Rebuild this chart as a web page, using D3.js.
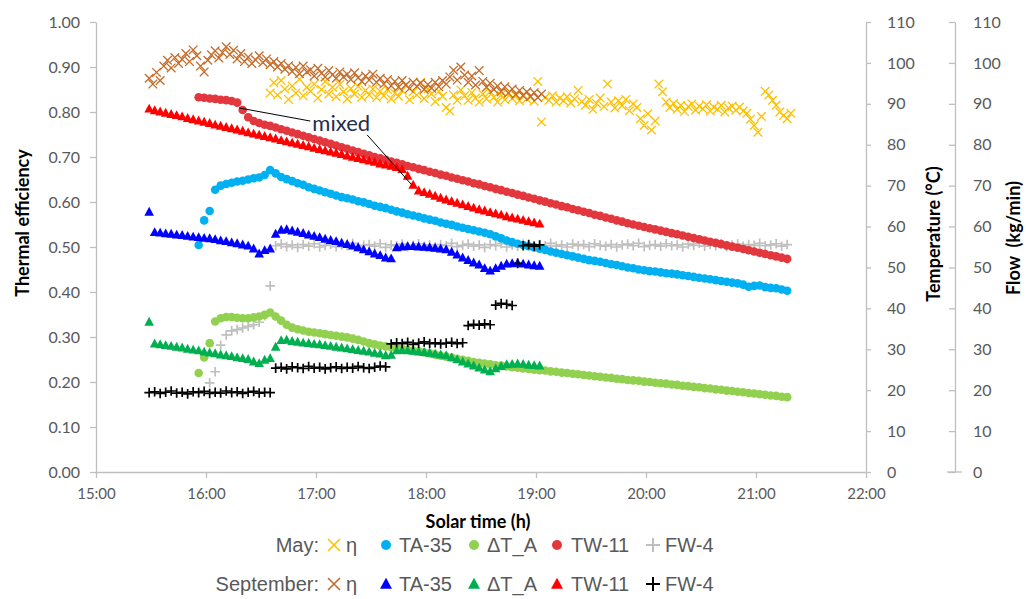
<!DOCTYPE html>
<html>
<head>
<meta charset="utf-8">
<script src="https://cdn.jsdelivr.net/npm/d3@7"></script>
<style>
  body { margin: 0; background: #fff; }
  svg { display: block; }
  text { font-family: Lato, "Open Sans", sans-serif; }
</style>
</head>
<body>
<svg id="chart" width="1026" height="599"></svg>
<script>
// ---------- axis ticks ----------
const hourTicks = [15, 16, 17, 18, 19, 20, 21, 22];
const effTicks = [0, 0.1, 0.2, 0.3, 0.4, 0.5, 0.6, 0.7, 0.8, 0.9, 1.0];
const tempTicks = [0, 10, 20, 30, 40, 50, 60, 70, 80, 90, 100, 110];
const flowTicks = [0, 10, 20, 30, 40, 50, 60, 70, 80, 90, 100, 110];

// ---------- September test: logged every 3 min from 15:29 ----------
const sepStart = "15:29", sepStep = 3;
const sepTA35 = [63.6, 58.6, 58.5, 58.3, 58.2, 58.0, 57.9, 57.7, 57.5, 57.4, 57.2, 57.1, 56.9, 56.6, 56.4, 56.1, 55.9, 55.6, 55.3, 54.6,
  53.4, 54.2, 54.6, 58.2, 59.2, 59.3, 59.0, 58.7, 58.4, 58.0, 57.7, 57.4, 57.0, 56.7, 56.4, 56.0, 55.7, 55.3, 54.9, 54.4,
  53.9, 53.4, 53.0, 52.4, 52.2, 54.9, 55.1, 55.2, 55.2, 55.1, 55.0, 54.9, 54.8, 54.6, 54.4, 53.8, 53.1, 52.4, 51.8, 51.2,
  50.7, 49.8, 49.2, 49.8, 50.4, 50.9, 51.0, 51.1, 50.9, 50.7, 50.5, 50.4];
const sepDTA = [36.7, 31.4, 31.2, 31.0, 30.8, 30.6, 30.4, 30.1, 29.9, 29.7, 29.4, 29.2, 29.0, 28.7, 28.5, 28.3, 28.0, 27.8, 27.6, 27.0,
  26.6, 27.4, 27.8, 30.6, 32.2, 32.3, 32.0, 31.8, 31.6, 31.5, 31.3, 31.2, 31.0, 30.8, 30.6, 30.4, 30.2, 30.0, 29.8, 29.6,
  29.4, 29.1, 28.9, 28.5, 28.6, 29.7, 29.8, 29.7, 29.6, 29.4, 29.3, 29.1, 28.9, 28.7, 28.5, 28.0, 27.5, 27.0, 26.5, 26.0,
  25.5, 25.0, 24.6, 25.3, 25.9, 26.3, 26.4, 26.5, 26.4, 26.2, 26.1, 26.0];
const sepTW11 = [88.8, 88.4, 88.1, 87.8, 87.5, 87.2, 86.9, 86.5, 86.2, 85.9, 85.6, 85.3, 84.9, 84.6, 84.3, 84.0, 83.7, 83.4, 83.0, 82.7,
  82.4, 82.1, 81.8, 81.5, 81.1, 80.8, 80.5, 80.2, 79.9, 79.6, 79.2, 78.9, 78.6, 78.3, 78.0, 77.7, 77.3, 77.0, 76.7, 76.4,
  76.1, 75.8, 75.4, 75.1, 74.8, 74.5, 74.0, 72.4, 70.2, 68.8, 68.4, 68.0, 67.5, 67.0, 66.6, 66.2, 65.8, 65.4, 65.0, 64.6,
  64.2, 63.9, 63.5, 63.2, 62.9, 62.5, 62.2, 61.9, 61.6, 61.3, 61.0, 60.7];
const sepFW4 = [19.4, 19.6, 19.2, 19.5, 19.8, 19.3, 19.5, 19.1, 19.6, 19.4, 19.7, 19.2, 19.5, 19.3, 19.8, 19.4, 19.6, 19.2, 19.5, 19.7,
  19.3, 19.5, 19.4, 25.4, 25.6, 25.2, 25.7, 25.5, 25.3, 25.8, 25.4, 25.6, 25.2, 25.5, 25.7, 25.3, 25.6, 25.4, 25.8, 25.5,
  25.3, 25.6, 25.9, 25.7, 31.3, 31.6, 31.4, 31.7, 31.2, 31.5, 31.8, 31.4, 31.6, 31.3, 31.5, 31.7, 31.4, 31.6, 35.8, 36.1,
  35.9, 36.2, 36.0, 40.8, 41.2, 41.0, 40.7, 51.0, 55.3, 55.6, 55.2, 55.5];
// efficiency, every 2 min from 15:29
const sepEtaStart = "15:29", sepEtaStep = 2;
const sepEta = [0.875, 0.862, 0.888, 0.870, 0.902, 0.915, 0.898, 0.921, 0.908, 0.917, 0.930, 0.912, 0.938, 0.925, 0.902, 0.889, 0.915, 0.927, 0.936, 0.920,
  0.932, 0.945, 0.928, 0.937, 0.918, 0.930, 0.912, 0.922, 0.908, 0.916, 0.925, 0.910, 0.918, 0.905, 0.912, 0.900, 0.908, 0.895, 0.903, 0.890,
  0.899, 0.885, 0.902, 0.889, 0.894, 0.880, 0.897, 0.886, 0.878, 0.892, 0.883, 0.875, 0.889, 0.878, 0.884, 0.872, 0.887, 0.876, 0.868, 0.880,
  0.871, 0.884, 0.866, 0.875, 0.862, 0.872, 0.858, 0.868, 0.855, 0.870, 0.860, 0.852, 0.866, 0.857, 0.864, 0.850, 0.861, 0.853, 0.866, 0.856,
  0.870, 0.862, 0.878, 0.893, 0.871, 0.900, 0.882, 0.866, 0.880, 0.860, 0.892, 0.868, 0.855, 0.864, 0.850, 0.858, 0.845, 0.856, 0.842, 0.851,
  0.839, 0.848, 0.836, 0.845, 0.834, 0.843, 0.832, 0.840];

// ---------- May test: logged every 3 min from 15:56 ----------
const mayStart = "15:56", mayStep = 3;
const mayTA35 = [55.5, 61.5, 63.8, 69.0, 70.0, 70.4, 70.7, 71.0, 71.2, 71.5, 71.8, 72.0, 72.6, 73.8, 73.0, 72.1, 71.6, 71.1, 70.6, 70.2,
  69.6, 69.2, 68.8, 68.4, 68.0, 67.6, 67.2, 66.9, 66.6, 66.2, 65.9, 65.5, 65.1, 64.8, 64.5, 64.1, 63.7, 63.4, 63.0, 62.7,
  62.4, 62.0, 61.7, 61.4, 61.0, 60.7, 60.4, 60.0, 59.7, 59.4, 59.1, 58.8, 58.5, 58.1, 57.6, 57.1, 56.6, 56.2, 55.8, 55.5,
  55.2, 54.9, 54.6, 54.3, 53.9, 53.6, 53.3, 53.0, 52.7, 52.4, 52.1, 51.8, 51.6, 51.4, 51.1, 50.8, 50.6, 50.3, 50.0, 49.8,
  49.5, 49.3, 49.1, 49.0, 48.8, 48.6, 48.5, 48.3, 48.1, 47.9, 47.7, 47.5, 47.3, 47.1, 46.9, 46.7, 46.5, 46.3, 46.1, 45.8,
  45.3, 45.5, 45.6, 45.2, 45.0, 44.9, 44.6, 44.3];
const mayDTA = [24.2, 28.0, 31.5, 36.8, 37.6, 37.9, 37.9, 37.7, 37.6, 37.6, 37.8, 38.0, 38.4, 39.0, 38.0, 37.0, 36.0, 35.3, 34.9, 34.6,
  34.3, 34.1, 33.9, 33.7, 33.5, 33.3, 33.1, 32.9, 32.6, 32.3, 31.9, 31.5, 31.2, 30.9, 30.7, 30.5, 30.3, 30.1, 29.9, 29.7,
  29.5, 29.2, 29.0, 28.7, 28.4, 28.2, 28.0, 27.7, 27.4, 27.2, 26.9, 26.7, 26.5, 26.3, 26.1, 26.0, 25.8, 25.6, 25.5, 25.3,
  25.2, 25.0, 24.9, 24.8, 24.6, 24.5, 24.3, 24.2, 24.0, 23.9, 23.7, 23.6, 23.4, 23.3, 23.1, 23.0, 22.8, 22.7, 22.5, 22.4,
  22.3, 22.1, 22.0, 21.8, 21.7, 21.6, 21.4, 21.3, 21.1, 21.0, 20.8, 20.7, 20.5, 20.4, 20.2, 20.1, 19.9, 19.8, 19.6, 19.5,
  19.3, 19.2, 19.0, 18.9, 18.7, 18.6, 18.4, 18.3];
const mayTW11 = [91.6, 91.5, 91.3, 91.2, 91.0, 90.9, 90.7, 90.3, 88.5, 86.7, 85.8, 85.3, 84.9, 84.6, 84.2, 83.8, 83.4, 83.0, 82.6, 82.2,
  81.8, 81.4, 81.0, 80.6, 80.2, 79.8, 79.4, 79.0, 78.6, 78.2, 77.8, 77.4, 77.0, 76.7, 76.3, 75.9, 75.6, 75.2, 74.8, 74.5,
  74.1, 73.8, 73.4, 73.1, 72.7, 72.4, 72.0, 71.7, 71.3, 71.0, 70.6, 70.3, 69.9, 69.6, 69.2, 68.9, 68.5, 68.2, 67.8, 67.5,
  67.1, 66.8, 66.4, 66.1, 65.7, 65.4, 65.0, 64.7, 64.3, 64.0, 63.6, 63.3, 62.9, 62.6, 62.2, 61.9, 61.5, 61.2, 60.8, 60.5,
  60.2, 59.9, 59.6, 59.3, 59.0, 58.7, 58.4, 58.1, 57.8, 57.5, 57.2, 56.9, 56.6, 56.3, 56.0, 55.7, 55.4, 55.1, 54.8, 54.5,
  54.2, 53.9, 53.6, 53.3, 53.0, 52.7, 52.4, 52.1];
const mayFW4 = [null, null, 21.8, 24.5, 31.0, 33.5, 34.5, 34.8, 35.2, 35.6, 36.0, 36.6, 38.2, 45.5,
  55.3, 55.7, 55.1, 55.5, 54.9, 55.6, 55.2, 55.8, 55.0, 55.4, 55.7, 55.1, 55.5, 55.3, 55.9, 55.0, 55.4, 55.6, 55.2, 55.8,
  54.9, 55.5, 55.3, 55.7, 55.1, 55.4, 55.8, 55.2, 55.5, 55.0, 55.6, 55.3, 55.9, 55.1, 55.4, 55.7, 55.2, 55.5, 54.9, 55.6,
  55.3, 55.8, 55.0, 55.5, 55.2, 55.7, 55.4, 55.1, 55.6, 55.3, 55.9, 55.2, 55.5, 55.0, 55.7, 55.3, 55.6, 55.1, 55.8, 55.4,
  55.2, 55.6, 55.0, 55.5, 55.7, 55.3, 55.9, 55.1, 55.4, 55.6, 55.2, 55.8, 55.3, 55.5, 55.0, 55.7, 55.4, 55.9, 55.2, 55.6,
  55.3, 55.8, 55.1, 55.5, 55.7, 55.2, 55.6, 55.4, 55.9, 55.3, 55.5, 55.8, 55.2, 55.6];
// efficiency, every 2 min from 16:35
const mayEtaStart = "16:35", mayEtaStep = 2;
const mayEta = [0.842, 0.865, 0.838, 0.870, 0.851, 0.828, 0.858, 0.842, 0.873, 0.836, 0.855, 0.846, 0.862, 0.831, 0.850, 0.868, 0.840, 0.855, 0.834, 0.861,
  0.845, 0.829, 0.852, 0.840, 0.857, 0.833, 0.848, 0.838, 0.851, 0.832, 0.846, 0.836, 0.850, 0.829, 0.842, 0.835, 0.848, 0.860, 0.827, 0.845,
  0.838, 0.866, 0.830, 0.851, 0.840, 0.823, 0.846, 0.835, 0.810, 0.802, 0.838, 0.826, 0.849, 0.836, 0.826, 0.843, 0.831, 0.822, 0.840, 0.829,
  0.845, 0.833, 0.822, 0.838, 0.827, 0.842, 0.830, 0.836, 0.825, 0.838, 0.829, 0.835, 0.824, 0.868, 0.778, 0.832, 0.826, 0.836, 0.822, 0.831,
  0.825, 0.834, 0.820, 0.829, 0.848, 0.823, 0.815, 0.828, 0.806, 0.819, 0.831, 0.812, 0.862, 0.822, 0.809, 0.825, 0.814, 0.828, 0.803, 0.818,
  0.810, 0.785, 0.770, 0.796, 0.760, 0.780, 0.862, 0.845, 0.822, 0.810, 0.819, 0.806, 0.815, 0.801, 0.812, 0.818, 0.804, 0.813, 0.807, 0.816,
  0.802, 0.811, 0.806, 0.815, 0.800, 0.809, 0.813, 0.804, 0.811, 0.802, 0.797, 0.784, 0.770, 0.755, 0.790, 0.846, 0.838, 0.826, 0.815, 0.800,
  0.792, 0.785, 0.797];

// ---------- helpers ----------
const hm = s => { const [h, m] = s.split(":").map(Number); return h + m / 60; };
const sampled = (start, stepMin, values) =>
  values.map((v, i) => ({ t: hm(start) + i * stepMin / 60, v })).filter(d => d.v != null);

// ---------- layout ----------
const svg = d3.select("#chart");
const x = d3.scaleLinear().domain([15, 22]).range([96, 866]);
const yEff = d3.scaleLinear().domain([0, 1]).range([472, 22]);
const yTemp = d3.scaleLinear().domain([0, 110]).range([472, 22]);
const yFlow = d3.scaleLinear().domain([0, 110]).range([472, 22]);

const axisColor = "#BFBFBF", labelColor = "#595959";

function styleAxis(g, size) {
  g.select(".domain").attr("stroke", axisColor).attr("stroke-width", 1.3);
  g.selectAll(".tick line").attr("stroke", axisColor).attr("stroke-width", 1.3);
  g.selectAll(".tick text").attr("fill", labelColor).style("font-size", size + "px")
    .style("font-family", "Lato, sans-serif");
}

svg.append("g").attr("transform", `translate(${x(15)},0)`)
  .call(d3.axisLeft(yEff).tickValues(effTicks).tickFormat(d3.format(".2f")).tickSize(6).tickSizeOuter(0).tickPadding(10))
  .call(g => styleAxis(g, 16));

svg.append("g").attr("transform", `translate(0,${yEff(0)})`)
  .call(d3.axisBottom(x).tickValues(hourTicks).tickFormat(h => `${h}:00`).tickSize(6).tickSizeOuter(0).tickPadding(10))
  .call(g => styleAxis(g, 15));

svg.append("g").attr("transform", `translate(${x(22)},0)`)
  .call(d3.axisRight(yTemp).tickValues(tempTicks).tickSize(5).tickSizeOuter(0).tickPadding(16))
  .call(g => styleAxis(g, 16));

const flowAxisX = 955;
svg.append("g").attr("transform", `translate(${flowAxisX},0)`)
  .call(d3.axisRight(yFlow).tickValues(flowTicks).tickSize(-6).tickSizeOuter(0).tickPadding(18))
  .call(g => styleAxis(g, 16));
svg.append("line").attr("x1", flowAxisX - 8).attr("x2", flowAxisX + 7)
  .attr("y1", yFlow(0)).attr("y2", yFlow(0)).attr("stroke", axisColor).attr("stroke-width", 1.3);

// axis titles
const titleStyle = sel => sel.attr("fill", "#000").style("font-weight", 700).style("font-size", "18px");
svg.append("text").attr("transform", "translate(22,223) rotate(-90)").attr("text-anchor", "middle")
  .attr("dominant-baseline", "central").text("Thermal efficiency").call(titleStyle);
svg.append("text").attr("transform", "translate(933,234) rotate(-90)").attr("text-anchor", "middle")
  .attr("dominant-baseline", "central").text("Temperature (°C)").call(titleStyle);
svg.append("text").attr("transform", "translate(1013,238) rotate(-90)").attr("text-anchor", "middle")
  .attr("dominant-baseline", "central").style("white-space", "pre").text("Flow  (kg/min)").call(titleStyle);
svg.append("text").attr("x", 478).attr("y", 521).attr("text-anchor", "middle")
  .attr("dominant-baseline", "central").text("Solar time (h)").call(titleStyle);

// ---------- markers ----------
const markerPath = {
  times: s => `M${-s},${-s}L${s},${s}M${-s},${s}L${s},${-s}`,
  plus: s => `M${-s},0H${s}M0,${-s}V${s}`,
  triangle: s => `M0,${-s * 1.05}L${s},${s * 0.8}L${-s},${s * 0.8}Z`
};

function drawMarker(sel, shape, color, s, sw) {
  if (shape === "circle") {
    sel.append("circle").attr("r", s).attr("fill", color);
  } else if (shape === "triangle") {
    sel.append("path").attr("d", markerPath.triangle(s)).attr("fill", color);
  } else {
    sel.append("path").attr("d", markerPath[shape](s)).attr("fill", "none")
      .attr("stroke", color).attr("stroke-width", sw);
  }
}

const seriesDefs = [
  { name: "May FW-4", data: sampled(mayStart, mayStep, mayFW4), y: yFlow, shape: "plus", color: "#BFBFBF", size: 4.8, sw: 1.7 },
  { name: "May η", data: sampled(mayEtaStart, mayEtaStep, mayEta), y: yEff, shape: "times", color: "#FFC000", size: 4.3, sw: 1.3 },
  { name: "May TA-35", data: sampled(mayStart, mayStep, mayTA35), y: yTemp, shape: "circle", color: "#00B0F0", size: 4.3 },
  { name: "May ΔT_A", data: sampled(mayStart, mayStep, mayDTA), y: yTemp, shape: "circle", color: "#92D050", size: 4.3 },
  { name: "May TW-11", data: sampled(mayStart, mayStep, mayTW11), y: yTemp, shape: "circle", color: "#E3373E", size: 4.3 },
  { name: "Sep η", data: sampled(sepEtaStart, sepEtaStep, sepEta), y: yEff, shape: "times", color: "#C46C2A", size: 4.3, sw: 1.3 },
  { name: "Sep TA-35", data: sampled(sepStart, sepStep, sepTA35), y: yTemp, shape: "triangle", color: "#0000FF", size: 4.8 },
  { name: "Sep ΔT_A", data: sampled(sepStart, sepStep, sepDTA), y: yTemp, shape: "triangle", color: "#00B050", size: 4.8 },
  { name: "Sep TW-11", data: sampled(sepStart, sepStep, sepTW11), y: yTemp, shape: "triangle", color: "#FF0000", size: 4.8 },
  { name: "Sep FW-4", data: sampled(sepStart, sepStep, sepFW4), y: yFlow, shape: "plus", color: "#000000", size: 4.8, sw: 1.7 }
];

const plot = svg.append("g");
seriesDefs.forEach(sd => {
  plot.append("g").attr("class", "series")
    .selectAll("g").data(sd.data).join("g")
    .attr("transform", d => `translate(${x(d.t)},${sd.y(d.v)})`)
    .each(function () { drawMarker(d3.select(this), sd.shape, sd.color, sd.size, sd.sw); });
});

// ---------- "mixed" callout ----------
const mixedNote = { text: "mixed", t: hm("16:58"), eff: 0.758 };
const mixedMay = { t: hm("16:18"), temp: 89.0 };
const mixedSep = { t: hm("17:52"), temp: 70.3 };
const note = svg.append("text").attr("x", x(mixedNote.t)).attr("y", yEff(mixedNote.eff))
  .attr("fill", "#1F2D4D").style("font-size", "22px").text(mixedNote.text);
const nb = note.node().getBBox();
svg.append("line").attr("x1", x(mixedMay.t)).attr("y1", yTemp(mixedMay.temp))
  .attr("x2", nb.x - 2).attr("y2", nb.y + nb.height * 0.45)
  .attr("stroke", "#000").attr("stroke-width", 1);
svg.append("line").attr("x1", nb.x + nb.width - 3).attr("y1", nb.y + nb.height - 1)
  .attr("x2", x(mixedSep.t)).attr("y2", yTemp(mixedSep.temp))
  .attr("stroke", "#000").attr("stroke-width", 1);

// ---------- legend ----------
const legendRows = [
  { label: "May:", items: [
    { text: "η", shape: "times", color: "#FFC000" },
    { text: "TA-35", shape: "circle", color: "#00B0F0" },
    { text: "ΔT_A", shape: "circle", color: "#92D050" },
    { text: "TW-11", shape: "circle", color: "#E3373E" },
    { text: "FW-4", shape: "plus", color: "#BFBFBF" }] },
  { label: "September:", items: [
    { text: "η", shape: "times", color: "#C46C2A" },
    { text: "TA-35", shape: "triangle", color: "#0000FF" },
    { text: "ΔT_A", shape: "triangle", color: "#00B050" },
    { text: "TW-11", shape: "triangle", color: "#FF0000" },
    { text: "FW-4", shape: "plus", color: "#000000" }] }
];
const legendMarkerX = [334, 386, 474, 557, 653];
const legendTextX = [346, 399, 487, 571, 665];
const legendRowY = [545, 584];
const legendSize = { times: 6, circle: 5, triangle: 6, plus: 7 };
const legendFont = sel => sel.attr("fill", labelColor).style("font-size", "20px")
  .style("font-family", "'Liberation Sans', Arial, sans-serif").attr("dominant-baseline", "central");

legendRows.forEach((row, r) => {
  const g = svg.append("g");
  g.append("text").attr("x", 319).attr("y", legendRowY[r]).attr("text-anchor", "end").text(row.label).call(legendFont);
  row.items.forEach((it, i) => {
    const m = g.append("g").attr("transform", `translate(${legendMarkerX[i]},${legendRowY[r]})`);
    drawMarker(m, it.shape, it.color, legendSize[it.shape], it.shape === "plus" ? 2 : 1.6);
    g.append("text").attr("x", legendTextX[i]).attr("y", legendRowY[r]).text(it.text).call(legendFont);
  });
});
</script>
</body>
</html>
